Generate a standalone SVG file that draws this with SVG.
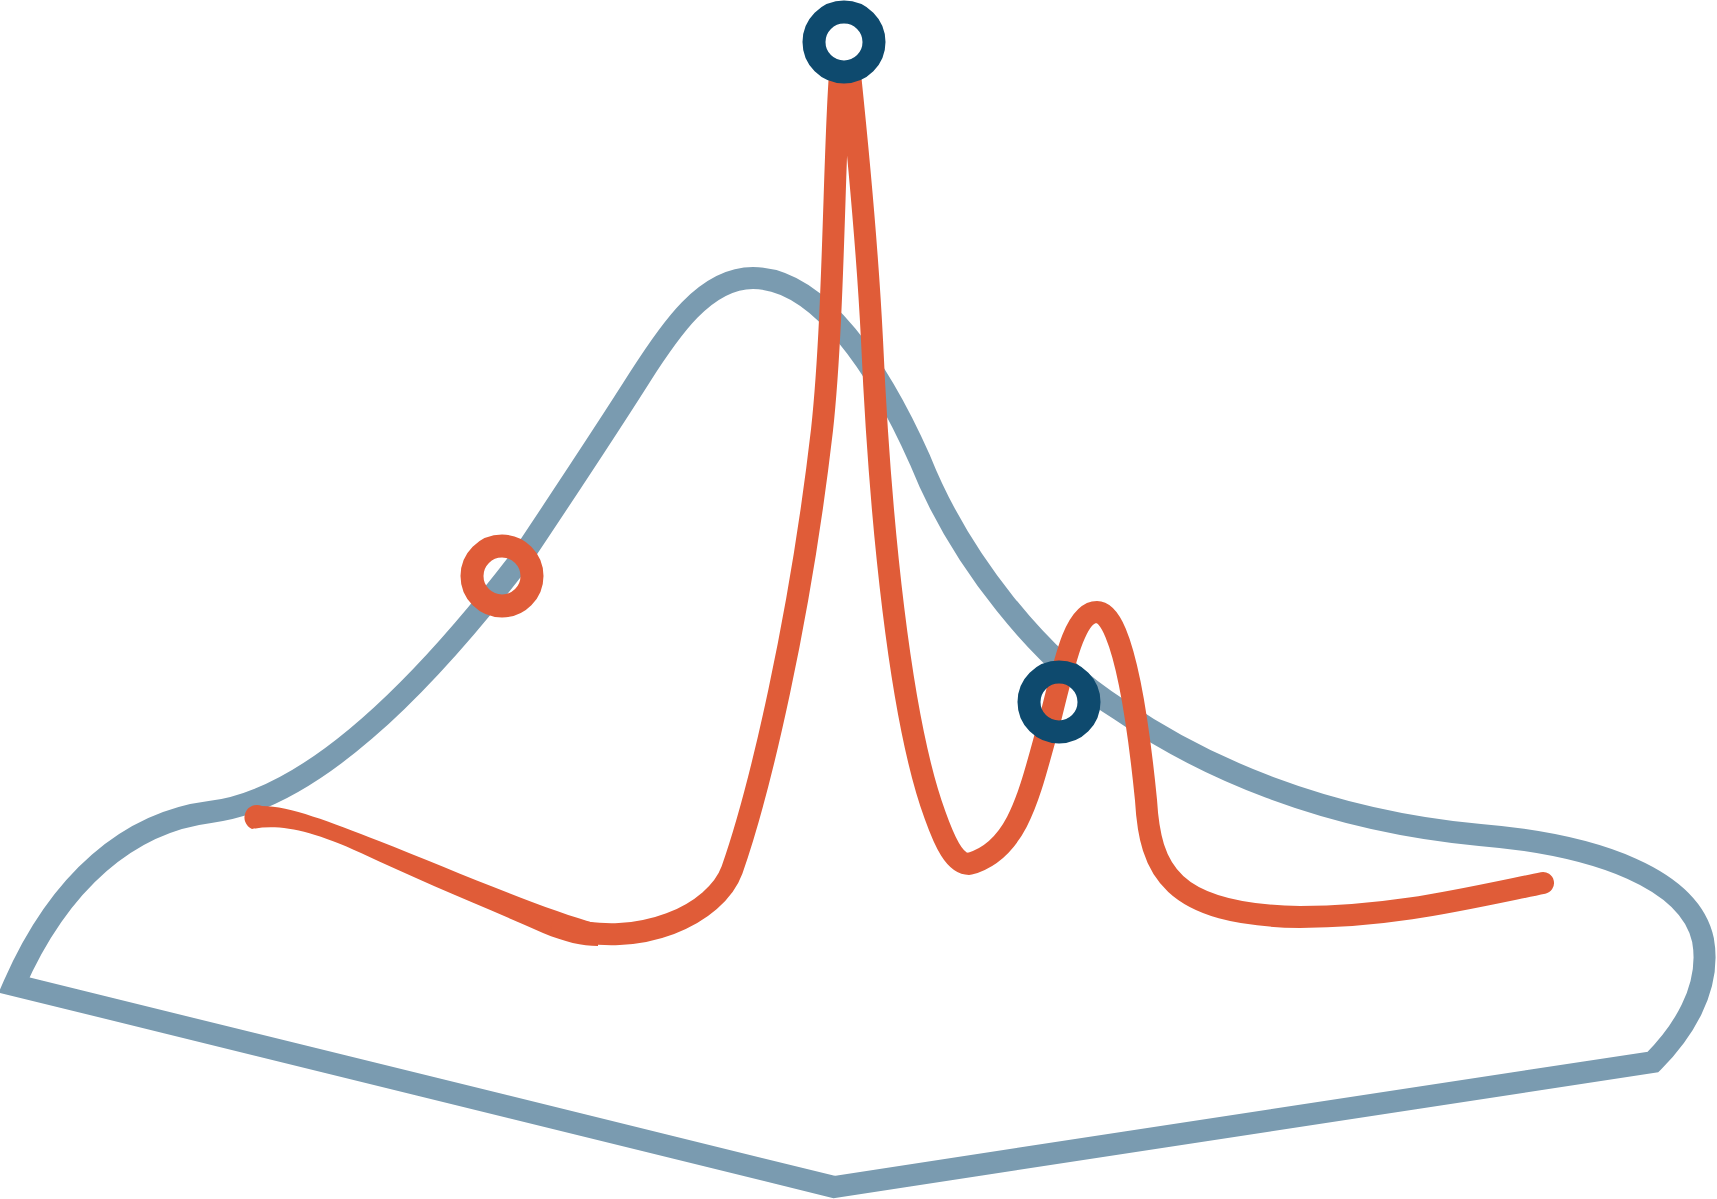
<svg xmlns="http://www.w3.org/2000/svg" width="1717" height="1199" viewBox="0 0 1717 1199">
<style>
.outline{fill:none;stroke:#7A9BB0;stroke-width:22;stroke-linejoin:miter;stroke-miterlimit:10}
.curve{fill:none;stroke:#E05C38;stroke-width:22;stroke-linecap:round;stroke-linejoin:round}
.tail{fill:#E05C38}
.ring-dark{fill:none;stroke:#0E4A6E;stroke-width:23}
.ring-red{fill:none;stroke:#E05C38;stroke-width:23}
</style>
<rect width="1717" height="1199" fill="#FFFFFF"/>
<g id="connectors">
<path id="outline" class="outline" d="M 14 985 C 60 880, 130 822, 210 812 C 310 800, 420 690, 520 560 C 560 500, 600 440, 640 377 C 670 330, 705 278, 753 278 C 820 278, 880 370, 920 460 C 960 560, 1040 660, 1120 710 C 1200 765, 1320 820, 1480 835 C 1600 845, 1690 880, 1703 940 C 1712 990, 1680 1035, 1653 1062 L 834 1187 Z"/>
<path id="tail" class="tail" d="M 598 924 C 545 910, 450 869, 379 841 C 330 822, 290 806, 262 806 A 11 11 0 0 0 252 829 C 280 824, 310 830, 361 853 C 420 881, 480 905, 543 933 C 565 942, 582 946, 598 946 Z"/>
<path id="curve" class="curve" d="M 562 927 C 640 950, 716 914, 732 870 C 760 790, 800 620, 822 430 C 834 320, 834 150, 840 74 L 850 74 C 860 170, 868 260, 872 340 C 880 520, 900 720, 935 815 C 945 843, 955 864, 969 864 C 1020 850, 1030 790, 1050 720 C 1065 660, 1075 612, 1097 612 C 1125 612, 1140 740, 1146 800 C 1150 870, 1170 915, 1300 917 C 1390 917, 1460 900, 1543 883"/>
</g>
<g id="node-top"><circle class="ring-dark" cx="844" cy="42" r="30"/></g>
<g id="node-left"><circle class="ring-red" cx="502" cy="576" r="30"/></g>
<g id="node-right"><circle class="ring-dark" cx="1059" cy="702" r="30"/></g>
</svg>
